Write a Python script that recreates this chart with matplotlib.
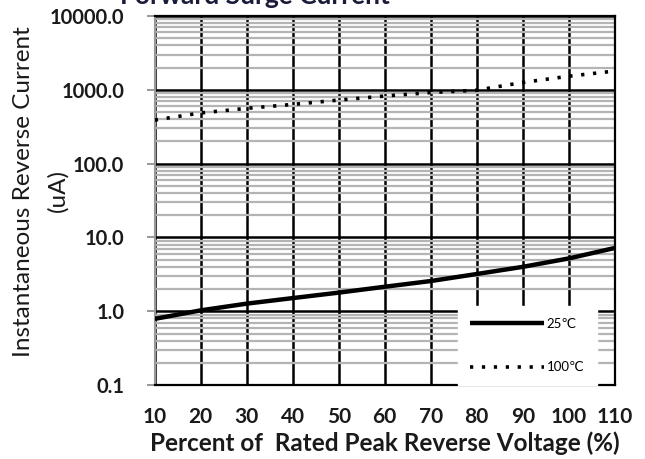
import matplotlib.pyplot as plt
from matplotlib.ticker import LogLocator, FixedLocator, NullFormatter

plt.rcParams['font.family'] = ['Lato', 'DejaVu Sans']

# data
percent = [10, 20, 30, 40, 50, 60, 70, 80, 90, 100, 110]
current_25c = [0.79, 1.03, 1.27, 1.51, 1.79, 2.15, 2.57, 3.2, 4.0, 5.2, 7.2]
current_100c = [390, 487, 562, 635, 728, 825, 920, 990, 1260, 1530, 1800]
y_ticks = [0.1, 1, 10, 100, 1000, 10000]
x_ticks = [10, 20, 30, 40, 50, 60, 70, 80, 90, 100, 110]

fig = plt.figure(figsize=(6.45, 4.59), dpi=100)
ax = fig.add_axes([0.240, 0.161, 0.713, 0.804])

ax.plot(percent, current_25c, color='black', lw=3.2, solid_capstyle='butt',
        label='25\u2103', zorder=3)
ax.plot(percent, current_100c, color='black', lw=2.6, linestyle=(0, (0.9, 2.4)),
        label='100\u2103', zorder=3)

ax.set_yscale('log')
ax.set_ylim(0.1, 10000)
ax.set_xlim(10, 110)

ax.yaxis.set_major_locator(FixedLocator(y_ticks))
ax.yaxis.set_minor_locator(LogLocator(base=10, subs=range(2, 10)))
ax.yaxis.set_minor_formatter(NullFormatter())
ax.set_yticklabels(['%.1f' % v for v in y_ticks])
ax.set_xticks(x_ticks)
ax.set_xticklabels([str(v) for v in x_ticks])

ax.grid(which='minor', axis='y', color='#b4b4b4', lw=1.6)
ax.grid(which='major', axis='y', color='black', lw=1.8)
ax.grid(which='major', axis='x', color='black', lw=1.8)
ax.set_axisbelow(True)

ax.tick_params(axis='y', which='major', length=6, width=1.2, color='#888888',
               labelsize=14.5, pad=16, labelcolor='#1a1a1a')
ax.tick_params(axis='y', which='minor', length=0)
ax.tick_params(axis='x', length=0, labelsize=15, pad=16, labelcolor='#1a1a1a')
for lab in ax.get_yticklabels() + ax.get_xticklabels():
    lab.set_fontweight('bold')

ax.spines['left'].set_color('#999999')
ax.spines['left'].set_linewidth(1.5)
for s in ['top', 'right', 'bottom']:
    ax.spines[s].set_color('black')
    ax.spines[s].set_linewidth(1.6)

ax.set_xlabel('Percent of  Rated Peak Reverse Voltage (%)', fontsize=17.5,
              fontweight='bold', color='#1a1a1a', labelpad=3)

fig.text(0.037, 0.582, 'Instantaneous Reverse Current', rotation=90,
         fontsize=17.5, ha='center', va='center', color='#1a1a1a')
fig.text(0.090, 0.586, '(uA)', rotation=90,
         fontsize=17.5, ha='center', va='center', color='#1a1a1a')

fig.text(0.395, 0.992, 'Forward Surge Current', fontsize=19, fontweight='bold',
         ha='center', va='baseline', color='#1a1a3a')

leg = ax.legend(loc='lower right', bbox_to_anchor=(0.975, -0.018),
                frameon=True, fancybox=False, framealpha=1, edgecolor='white',
                facecolor='white', fontsize=9.5, handlelength=5.6,
                labelspacing=2.4, borderpad=0.9, handletextpad=0.2)
leg.set_zorder(10)

fig.savefig('out.png', dpi=100)
